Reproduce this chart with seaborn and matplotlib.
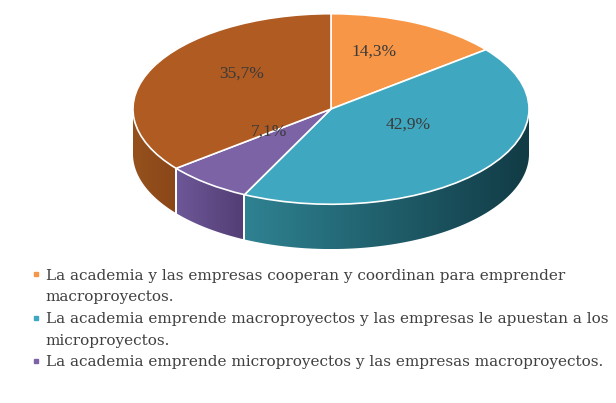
import numpy as np
import matplotlib.pyplot as plt
import seaborn as sns
from matplotlib.lines import Line2D
from matplotlib.patches import Polygon
from matplotlib.colors import LinearSegmentedColormap

# slice values (%), clockwise from 12 o'clock
shares = [14.3, 42.9, 7.1, 35.7]
top_colors = ["#F79646", "#3FA8C0", "#7B63A6", "#B05B22"]
side_light = ["#C06A28", "#2F8292", "#6E5798", "#95511D"]
side_dark = ["#A05520", "#113B45", "#523E74", "#8A4618"]
legend_labels = [
    "La academia y las empresas cooperan y coordinan para emprender\nmacroproyectos.",
    "La academia emprende macroproyectos y las empresas le apuestan a los\nmicroproyectos.",
    "La academia emprende microproyectos y las empresas macroproyectos.",
]

sns.set_theme(style="white")
plt.rcParams["font.family"] = ["DejaVu Serif"]

fig = plt.figure(figsize=(6.16, 4.03), dpi=100)
# pie axes: x unit = 200 px, y unit = 95 px (tilted look)
ax = fig.add_axes([131 / 616, (403 - 250) / 403, 400 / 616, 242 / 403])
depth = 0.47

# extruded side with a left-to-right shading
cum = np.cumsum([0] + shares)
for i, v in enumerate(shares):
    t = np.deg2rad(np.linspace(90 - cum[i] * 3.6, 90 - cum[i + 1] * 3.6, 200))
    t = t[np.sin(t) <= 0.001]
    if len(t) < 2:
        continue
    xs, ys = np.cos(t), np.sin(t)
    pts = np.vstack([np.column_stack([xs, ys]),
                     np.column_stack([xs[::-1], ys[::-1] - depth])])
    poly = Polygon(pts, closed=True, facecolor="none", edgecolor="none")
    ax.add_patch(poly)
    cmap = LinearSegmentedColormap.from_list("s", [side_light[i], side_dark[i]])
    im = ax.imshow(np.linspace(0, 1, 256).reshape(1, -1), cmap=cmap,
                   extent=(xs.min(), xs.max(), ys.min() - depth, ys.max()),
                   aspect="auto", zorder=1)
    im.set_clip_path(poly)
    # white seam at the slice edges
    for x0, y0 in [(xs[0], ys[0]), (xs[-1], ys[-1])]:
        if -0.99 < x0 < 0.99:
            ax.plot([x0, x0], [y0, y0 - depth], color="white", lw=1.3, zorder=2)

wedges, _, autotexts = ax.pie(
    shares, colors=top_colors, startangle=90, counterclock=False,
    center=(0, 0), radius=1,
    autopct=lambda p: f"{p:.1f}%".replace(".", ","), pctdistance=0.5,
    wedgeprops=dict(linewidth=1.2, edgecolor="white", zorder=3),
    textprops=dict(color="#3A3A3A", fontsize=12.5, family="Liberation Serif"))
for t in autotexts:
    t.set_y(t.get_position()[1] + 0.15)
    t.set_zorder(4)

ax.set_aspect("auto")
ax.set_xlim(-1.01, 1.01)
ax.set_ylim(-1.48, 1.06)
ax.axis("off")

# one legend row per printed line; only first lines carry a marker
handles, rows = [], []
for c, lab in zip(top_colors, legend_labels):
    for k, line in enumerate(lab.split("\n")):
        handles.append(Line2D([], [], marker="s", linestyle="", markersize=3,
                              color=c if k == 0 else "none"))
        rows.append(line)
leg = fig.legend(handles, rows, loc="upper left",
                 bbox_to_anchor=(25 / 616, 1 - 261 / 403), frameon=False,
                 handlelength=0.5, handletextpad=0.35, labelspacing=0.5,
                 fontsize=11, borderpad=0)
for t in leg.get_texts():
    t.set_color("#404040")

fig.savefig("out.png", dpi=100, facecolor="white")
